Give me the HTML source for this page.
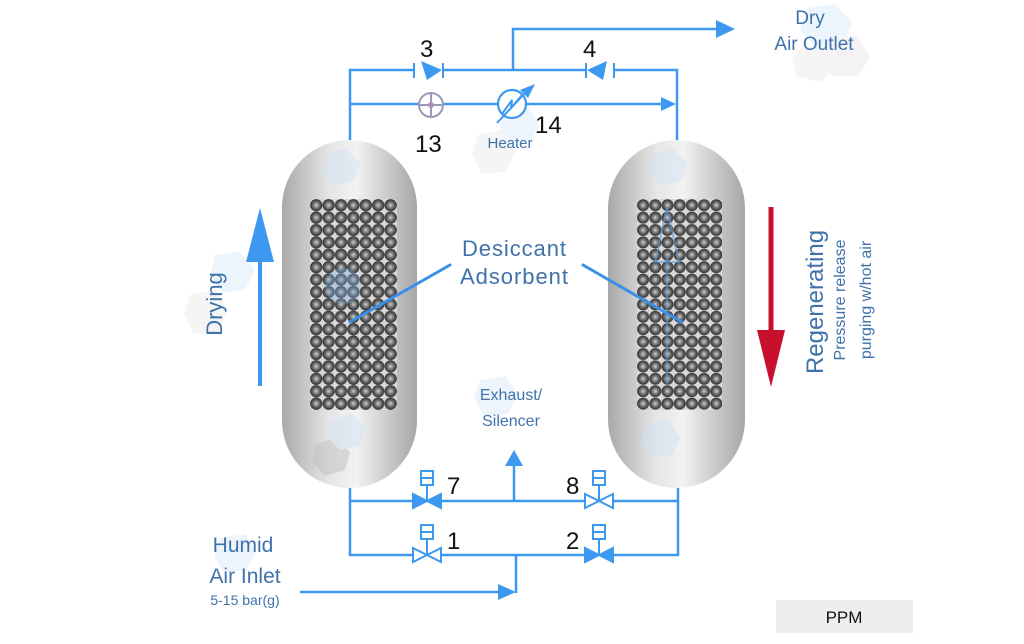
<!DOCTYPE html>
<html><head><meta charset="utf-8"><style>
html,body{margin:0;padding:0;background:#fff;}
svg{display:block;}
text{font-family:"Liberation Sans",sans-serif;}
</style></head><body>
<svg width="1024" height="644" viewBox="0 0 1024 644" xmlns="http://www.w3.org/2000/svg">
<defs>
<linearGradient id="vg" x1="0" x2="1" y1="0" y2="0">
<stop offset="0" stop-color="#a9a9a9"/><stop offset="0.35" stop-color="#e6e6e6"/><stop offset="0.55" stop-color="#f2f2f2"/><stop offset="1" stop-color="#a6a6a6"/>
</linearGradient>
<radialGradient id="bg" cx="0.5" cy="0.5" r="0.5">
<stop offset="0" stop-color="#cfcfcf"/><stop offset="0.55" stop-color="#6a6a6a"/><stop offset="1" stop-color="#2d2d2d"/>
</radialGradient>
<pattern id="beads" x="310" y="199" width="12.4" height="12.4" patternUnits="userSpaceOnUse">
<rect width="12.4" height="12.4" fill="#d8d8d8"/>
<circle cx="6.2" cy="6.2" r="6.1" fill="url(#bg)"/>
</pattern>
<pattern id="beads2" x="637" y="199" width="12.2" height="12.4" patternUnits="userSpaceOnUse">
<rect width="12.2" height="12.4" fill="#d8d8d8"/>
<circle cx="6.1" cy="6.2" r="6" fill="url(#bg)"/>
</pattern>
</defs>

<g opacity="0.5">
<polygon points="808,8 835,4 852,22 844,46 818,50 800,30" fill="#dbeafa"/>
<polygon points="830,40 856,36 870,56 858,76 832,76 822,58" fill="#e8e8e8"/>
<polygon points="800,48 826,46 836,66 820,82 796,76 792,58" fill="#ececec"/>
<polygon points="215,255 240,252 255,270 245,290 222,292 210,275" fill="#dbeafa"/>
<polygon points="190,295 215,290 228,310 218,332 194,334 184,314" fill="#ececec"/>
<polygon points="480,380 505,376 518,394 508,414 484,416 474,398" fill="#dbeafa"/>
<polygon points="478,135 503,130 516,150 506,172 482,174 472,154" fill="#ececec"/>
<polygon points="505,110 528,108 540,126 530,142 510,142 500,126" fill="#dbeafa"/>
<polygon points="220,538 245,534 256,552 246,570 224,572 214,556" fill="#dbeafa"/>
</g>

<rect x="282" y="140" width="135" height="348" rx="67.5" fill="url(#vg)"/>
<rect x="608" y="140" width="137" height="348" rx="68.5" fill="url(#vg)"/>
<g opacity="0.45">
<polygon points="325,155 345,148 360,162 355,180 335,186 322,172" fill="#cfe3f7"/>
<polygon points="652,155 672,148 687,162 682,180 662,186 649,172" fill="#cfe3f7"/>
<polygon points="315,445 335,438 350,452 345,470 325,476 312,462" fill="#bbbbbb"/>
<polygon points="645,425 668,420 680,438 672,456 650,458 640,442" fill="#cfe3f7"/>
<polygon points="330,420 352,414 366,428 360,446 340,450 326,436" fill="#cfe3f7"/>
</g>
<rect x="310" y="199" width="87" height="211" fill="url(#beads)" rx="4"/>
<rect x="637" y="199" width="85" height="211" fill="url(#beads2)" rx="4"/>
<circle cx="343" cy="286" r="18" fill="#7fb2e6" opacity="0.35"/>
<g stroke="#5b9ee0" stroke-width="2" fill="none" opacity="0.6">
<line x1="667" y1="255" x2="667" y2="385"/>
<polygon points="667,208 655,262 679,262"/>
</g>

<g stroke="#3a90e8" stroke-width="3" stroke-linecap="round">
<line x1="350" y1="322" x2="450" y2="265"/>
<line x1="583" y1="265" x2="682" y2="322"/>
</g>

<g stroke="#3d98f0" stroke-width="2.5" fill="none">
<polyline points="350,140 350,70 413,70"/>
<line x1="444" y1="70" x2="586" y2="70"/>
<polyline points="614,70 677,70 677,140"/>
<polyline points="513,70 513,29 716,29"/>
<line x1="350" y1="104" x2="664" y2="104"/>
<polyline points="350,488 350,555 413,555"/>
<line x1="350" y1="501" x2="413" y2="501"/>
<line x1="441" y1="501" x2="585" y2="501"/>
<line x1="441" y1="555" x2="585" y2="555"/>
<polyline points="678,488 678,555 613,555"/>
<line x1="678" y1="501" x2="613" y2="501"/>
<line x1="514" y1="501" x2="514" y2="464"/>
<polyline points="300,592 502,592"/>
<line x1="516" y1="555" x2="516" y2="593"/>
</g>
<g fill="#3d98f0">
<polygon points="716,20 735,29 716,38"/>
<polygon points="661,97 676,104 661,111"/>
<polygon points="505,466 514,450 523,466"/>
<polygon points="498,584 516,592 498,600"/>
</g>

<g stroke="#3d98f0" stroke-width="2" fill="#3d98f0">
<line x1="414" y1="63" x2="414" y2="78"/><line x1="443" y1="63" x2="443" y2="78"/>
<polygon points="421,61 442,70 427,80" stroke="none"/>
<line x1="586" y1="63" x2="586" y2="78"/><line x1="614" y1="63" x2="614" y2="78"/>
<polygon points="607,61 587,70 603,80" stroke="none"/>
</g>

<circle cx="431" cy="105" r="12" fill="#fff" stroke="#9a9ab8" stroke-width="2"/>
<line x1="419" y1="105" x2="443" y2="105" stroke="#9a9ab8" stroke-width="2"/>
<line x1="431" y1="93" x2="431" y2="117" stroke="#9a9ab8" stroke-width="2"/>
<circle cx="431" cy="105" r="3" fill="#b090b0"/>
<circle cx="512" cy="104" r="14" fill="#fff" stroke="#3d98f0" stroke-width="2.2"/>
<polyline points="502,114 512,100 511,108 522,95" fill="none" stroke="#3d98f0" stroke-width="2"/>
<line x1="497" y1="123" x2="525" y2="93" stroke="#3d98f0" stroke-width="2"/>
<polygon points="535,84 520,90 528,98" fill="#3d98f0"/>

<g stroke="#3d98f0" stroke-width="2">
<g transform="translate(427,501)">
<polygon points="-14,-7 0,0 -14,7" fill="#3d98f0"/><polygon points="14,-7 0,0 14,7" fill="#3d98f0"/>
<line x1="0" y1="0" x2="0" y2="-16"/><rect x="-6" y="-30" width="12" height="14" fill="#fff"/><line x1="-6" y1="-23" x2="6" y2="-23"/>
</g>
<g transform="translate(599,501)">
<polygon points="-14,-7 0,0 -14,7" fill="#fff"/><polygon points="14,-7 0,0 14,7" fill="#fff"/>
<line x1="0" y1="0" x2="0" y2="-16"/><rect x="-6" y="-30" width="12" height="14" fill="#fff"/><line x1="-6" y1="-23" x2="6" y2="-23"/>
</g>
<g transform="translate(427,555)">
<polygon points="-14,-7 0,0 -14,7" fill="#fff"/><polygon points="14,-7 0,0 14,7" fill="#fff"/>
<line x1="0" y1="0" x2="0" y2="-16"/><rect x="-6" y="-30" width="12" height="14" fill="#fff"/><line x1="-6" y1="-23" x2="6" y2="-23"/>
</g>
<g transform="translate(599,555)">
<polygon points="-14,-7 0,0 -14,7" fill="#3d98f0"/><polygon points="14,-7 0,0 14,7" fill="#3d98f0"/>
<line x1="0" y1="0" x2="0" y2="-16"/><rect x="-6" y="-30" width="12" height="14" fill="#fff"/><line x1="-6" y1="-23" x2="6" y2="-23"/>
</g>
</g>

<line x1="260" y1="386" x2="260" y2="250" stroke="#3d98f0" stroke-width="4"/>
<polygon points="246,262 260,208 274,262" fill="#3d98f0"/>
<line x1="771" y1="207" x2="771" y2="340" stroke="#c8102e" stroke-width="5"/>
<polygon points="757,330 785,330 771,387" fill="#c8102e"/>

<g font-size="24" fill="#111">
<text x="420" y="57">3</text><text x="583" y="57">4</text>
<text x="415" y="152">13</text><text x="535" y="133">14</text>
<text x="447" y="494">7</text><text x="566" y="494">8</text>
<text x="447" y="549">1</text><text x="566" y="549">2</text>
</g>

<g fill="#3f72aa">
<text x="810" y="24" font-size="19" text-anchor="middle">Dry</text>
<text x="814" y="50" font-size="19" text-anchor="middle">Air Outlet</text>
<text x="510" y="148" font-size="15" text-anchor="middle">Heater</text>
<text x="514" y="256" font-size="22" text-anchor="middle" textLength="104">Desiccant</text>
<text x="514" y="284" font-size="22" text-anchor="middle" textLength="108">Adsorbent</text>
<text x="511" y="400" font-size="16" text-anchor="middle">Exhaust/</text>
<text x="511" y="426" font-size="16" text-anchor="middle">Silencer</text>
<text x="243" y="552" font-size="21" text-anchor="middle">Humid</text>
<text x="245" y="583" font-size="21" text-anchor="middle">Air Inlet</text>
<text x="245" y="605" font-size="14" text-anchor="middle">5-15 bar(g)</text>
<text transform="translate(222,304) rotate(-90)" font-size="22" text-anchor="middle">Drying</text>
<text transform="translate(823,302) rotate(-90)" font-size="24" text-anchor="middle">Regenerating</text>
<text transform="translate(845,300) rotate(-90)" font-size="16" text-anchor="middle">Pressure release</text>
<text transform="translate(871,300) rotate(-90)" font-size="16" text-anchor="middle">purging w/hot air</text>
</g>

<rect x="776" y="600" width="137" height="33" fill="#eeeeee"/>
<text x="844" y="623" font-size="17" fill="#111" text-anchor="middle">PPM</text>
</svg>
</body></html>
